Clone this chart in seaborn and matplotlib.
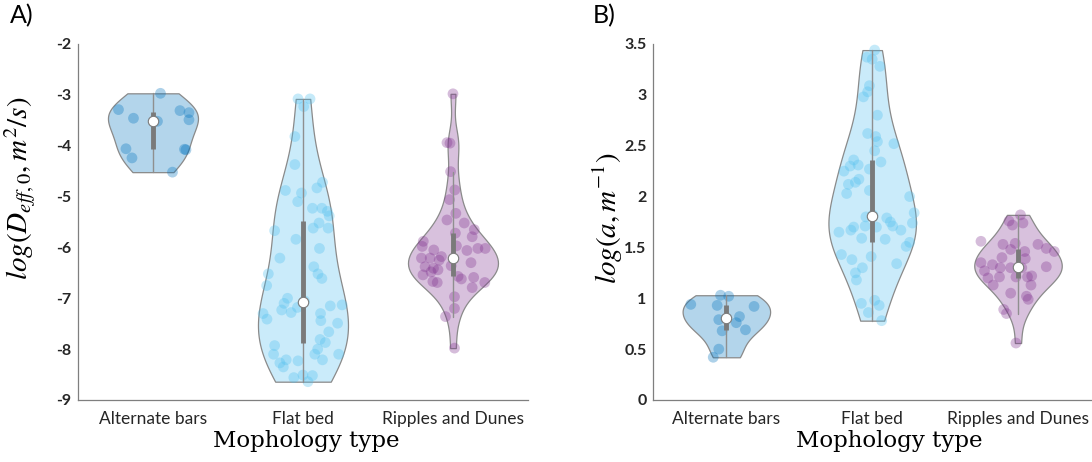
import matplotlib
matplotlib.use("Agg")
import matplotlib.pyplot as plt
import matplotlib.cbook as cbook
import matplotlib.colors as mcolors
import seaborn as sns
import pandas as pd
import numpy as np

categories = ["Alternate bars", "Flat bed", "Ripples and Dunes"]
base_colors = ["#0072BD", "#4DBEEE", "#7E2F8E"]

# Panel A: log(D_eff,0) values and horizontal jitter (category units)
deff_alt = [-2.97, -3.29, -3.31, -3.35, -3.46, -3.49, -3.52, -4.06, -4.07, -4.08, -4.24, -4.52]
deff_alt_jit = [0.05, -0.23, 0.18, 0.24, -0.13, 0.24, 0.03, -0.18, 0.21, 0.22, -0.14, 0.13]

deff_flat = [-3.08, -3.08, -3.23, -3.82, -4.37, -4.72, -4.83, -4.88, -4.93, -5.10,
             -5.23, -5.23, -5.29, -5.38, -5.52, -5.62, -5.62, -5.67, -5.84, -6.02,
             -6.21, -6.38, -6.52, -6.52, -6.61, -6.75, -7.00, -7.05, -7.10, -7.13,
             -7.15, -7.18, -7.23, -7.28, -7.30, -7.30, -7.41, -7.44, -7.49, -7.66,
             -7.81, -7.87, -7.93, -8.00, -8.10, -8.10, -8.10, -8.21, -8.21, -8.23,
             -8.27, -8.35, -8.51, -8.52, -8.56, -8.64]
deff_flat_jit = [-0.033, 0.047, 0.005, -0.054, -0.054, 0.13, 0.093, -0.117, -0.01, -0.035,
                 0.063, 0.126, 0.163, 0.175, 0.107, 0.068, 0.168, -0.189, -0.047, 0.11,
                 -0.154, 0.072, -0.231, 0.1, 0.126, -0.242, -0.103, 0.01, -0.126, 0.261,
                 0.182, -0.037, -0.142, -0.079, -0.266, 0.117, -0.24, 0.119, 0.231, 0.172,
                 0.114, 0.149, -0.189, 0.098, 0.079, 0.238, -0.196, 0.13, -0.112, -0.033,
                 -0.154, -0.131, 0.0, 0.063, -0.061, 0.033]

deff_rip = [-2.98, -3.94, -3.95, -4.51, -4.87, -5.06, -5.33, -5.46, -5.52, -5.65,
            -5.72, -5.79, -5.88, -5.97, -5.98, -6.02, -6.02, -6.05, -6.06, -6.18,
            -6.21, -6.21, -6.25, -6.30, -6.36, -6.38, -6.41, -6.44, -6.48, -6.54,
            -6.57, -6.59, -6.62, -6.67, -6.69, -6.69, -6.79, -6.97, -7.20, -7.36, -7.98]
deff_rip_jit = [0.0, -0.04, -0.02, -0.016, 0.012, -0.023, 0.019, -0.04, 0.075, 0.142,
                0.016, 0.128, -0.198, 0.023, -0.205, 0.166, 0.215, -0.128, 0.093, -0.077,
                -0.21, -0.152, -0.092, 0.12, -0.012, -0.186, -0.13, -0.10, -0.146, -0.20,
                0.034, 0.138, 0.056, -0.134, -0.105, 0.212, 0.128, 0.01, 0.01, -0.05, 0.01]

# Panel B: log(a) values and jitter
a_alt = [1.03, 1.02, 0.94, 0.93, 0.92, 0.82, 0.79, 0.76, 0.69, 0.68, 0.50, 0.42]
a_alt_jit = [-0.04, 0.016, -0.244, -0.063, 0.19, 0.09, -0.052, 0.068, 0.131, -0.029, -0.052, -0.09]

a_flat = [3.44, 3.37, 3.35, 3.28, 3.09, 3.03, 2.98, 2.80, 2.62, 2.59,
          2.54, 2.52, 2.45, 2.36, 2.34, 2.31, 2.30, 2.27, 2.25, 2.17,
          2.14, 2.12, 2.06, 2.03, 2.00, 1.84, 1.82, 1.80, 1.79, 1.75,
          1.74, 1.71, 1.71, 1.70, 1.70, 1.67, 1.67, 1.65, 1.59, 1.58,
          1.55, 1.51, 1.43, 1.41, 1.38, 1.34, 1.30, 1.25, 1.18, 0.98,
          0.95, 0.93, 0.86, 0.78]
a_flat_jit = [0.017, -0.036, 0.0, 0.053, -0.019, -0.031, -0.06, 0.036, -0.031, 0.024,
              0.036, 0.149, 0.017, -0.127, 0.06, -0.096, -0.151, -0.019, -0.194, -0.091,
              -0.115, -0.163, -0.019, -0.175, 0.257, 0.288, 0.005, -0.043, 0.1, 0.125,
              0.276, 0.141, -0.048, -0.127, 0.029, 0.197, -0.146, -0.228, -0.072, 0.089,
              0.257, 0.233, -0.211, -0.007, -0.139, 0.168, -0.067, -0.115, -0.108, 0.017,
              -0.074, 0.048, -0.026, 0.065]

a_rip = [1.82, 1.76, 1.74, 1.72, 1.56, 1.54, 1.53, 1.53, 1.49, 1.48,
         1.46, 1.46, 1.40, 1.39, 1.35, 1.33, 1.31, 1.30, 1.30, 1.30,
         1.27, 1.22, 1.21, 1.21, 1.21, 1.20, 1.13, 1.13, 1.05, 1.02,
         0.99, 0.89, 0.85, 0.56]
a_rip_jit = [0.017, -0.062, 0.034, -0.038, -0.254, -0.019, -0.103, 0.137, 0.194, -0.05,
             0.046, 0.249, -0.11, 0.05, -0.254, -0.175, 0.194, -0.122, -0.05, 0.026,
             -0.23, 0.094, -0.127, -0.014, 0.065, -0.206, -0.17, 0.089, -0.05, 0.058,
             0.07, -0.098, -0.079, -0.014]

yticks_A = [-9, -8, -7, -6, -5, -4, -3, -2]
yticklabels_A = ["-9", "-8", "-7", "-6", "-5", "-4", "-3", "-2"]
yticks_B = [0, 0.5, 1, 1.5, 2, 2.5, 3, 3.5]
yticklabels_B = ["0", "0.5", "1", "1.5", "2", "2.5", "3", "3.5"]

sns.set_theme(style="white")
plt.rcParams["font.family"] = ["Lato", "DejaVu Sans"]
plt.rcParams["mathtext.fontset"] = "stix"
plt.rcParams["axes.unicode_minus"] = False

AXIS_GRAY = "#7f7f7f"
TEXT_COL = "#262626"


def robust_bw_factor(vals):
    # MAD-based bandwidth (like MATLAB ksdensity), expressed as a factor of the std
    x = np.asarray(vals)
    sig = np.median(np.abs(x - np.median(x))) / 0.6745
    bw = sig * (4 / (3 * len(x))) ** 0.2
    return bw / x.std(ddof=1)


def draw_panel(ax, groups, jitters, ylim, yticks, yticklabels, ylabel, label_pos, xlabel_x):
    df = pd.DataFrame({
        "type": np.repeat(categories, [len(g) for g in groups]),
        "value": np.concatenate(groups),
    })
    for i, cat in enumerate(categories):
        fill = tuple(0.3 * np.array(mcolors.to_rgb(base_colors[i])) + 0.7)
        sns.violinplot(data=df[df["type"] == cat], x="type", y="value", order=categories,
                       color=fill, saturation=1, cut=0, inner=None,
                       density_norm="width", width=0.6, linewidth=0.9,
                       linecolor="#8a8a8a", bw_method=robust_bw_factor(groups[i]), ax=ax)

    for i, (vals, jit) in enumerate(zip(groups, jitters)):
        ax.scatter(i + np.array(jit), vals, s=60, color=base_colors[i], alpha=0.32,
                   edgecolors="none", zorder=3)
        st = cbook.boxplot_stats(np.array(vals))[0]
        ax.plot([i, i], [st["whislo"], st["whishi"]], color="#8f8f8f", lw=1, zorder=4)
        ax.plot([i, i], [st["q1"], st["q3"]], color="#7a7a7a", lw=3.5,
                solid_capstyle="butt", zorder=5)
        ax.plot(i, st["med"], "o", ms=7.5, mfc="white", mec="#7a7a7a", mew=0.8, zorder=6)

    ax.set_xlim(-0.5, 2.5)
    ax.set_ylim(*ylim)
    ax.set_yticks(yticks)
    ax.set_yticklabels(yticklabels, fontweight="bold", fontsize=11.5, color=TEXT_COL)
    ax.set_xticks(range(3))
    ax.set_xticklabels(categories, fontsize=12.5, color=TEXT_COL)
    ax.tick_params(axis="y", direction="in", length=3, color=AXIS_GRAY, pad=5)
    ax.tick_params(axis="x", direction="out", length=4, color=AXIS_GRAY, pad=4)

    sns.despine(ax=ax)
    for side in ["left", "bottom"]:
        ax.spines[side].set_color(AXIS_GRAY)
        ax.spines[side].set_linewidth(0.9)

    ax.set_ylabel(ylabel, fontsize=21, color="black")
    ax.yaxis.set_label_coords(label_pos[0], label_pos[1])
    ax.set_xlabel("Mophology type", fontsize=16.5, family="DejaVu Serif", color="black")
    ax.xaxis.set_label_coords(xlabel_x, -0.085)


fig = plt.figure(figsize=(10.92, 4.62), dpi=100)
axA = fig.add_axes([0.0714, 0.1342, 0.4121, 0.7706])
axB = fig.add_axes([0.5984, 0.1342, 0.4006, 0.7706])

draw_panel(axA, [deff_alt, deff_flat, deff_rip],
           [deff_alt_jit, deff_flat_jit, deff_rip_jit],
           (-9, -2), yticks_A, yticklabels_A,
           r"$log(D_{eff,0},m^2/s)$", (-0.088, 0.595), 0.507)
draw_panel(axB, [a_alt, a_flat, a_rip],
           [a_alt_jit, a_flat_jit, a_rip_jit],
           (0, 3.5), yticks_B, yticklabels_B,
           r"$log(a,m^{-1})$", (-0.065, 0.51), 0.54)

fig.text(0.009, 0.95, "A)", fontsize=18, color="black")
fig.text(0.543, 0.95, "B)", fontsize=18, color="black")

fig.savefig("out.png", dpi=100)
